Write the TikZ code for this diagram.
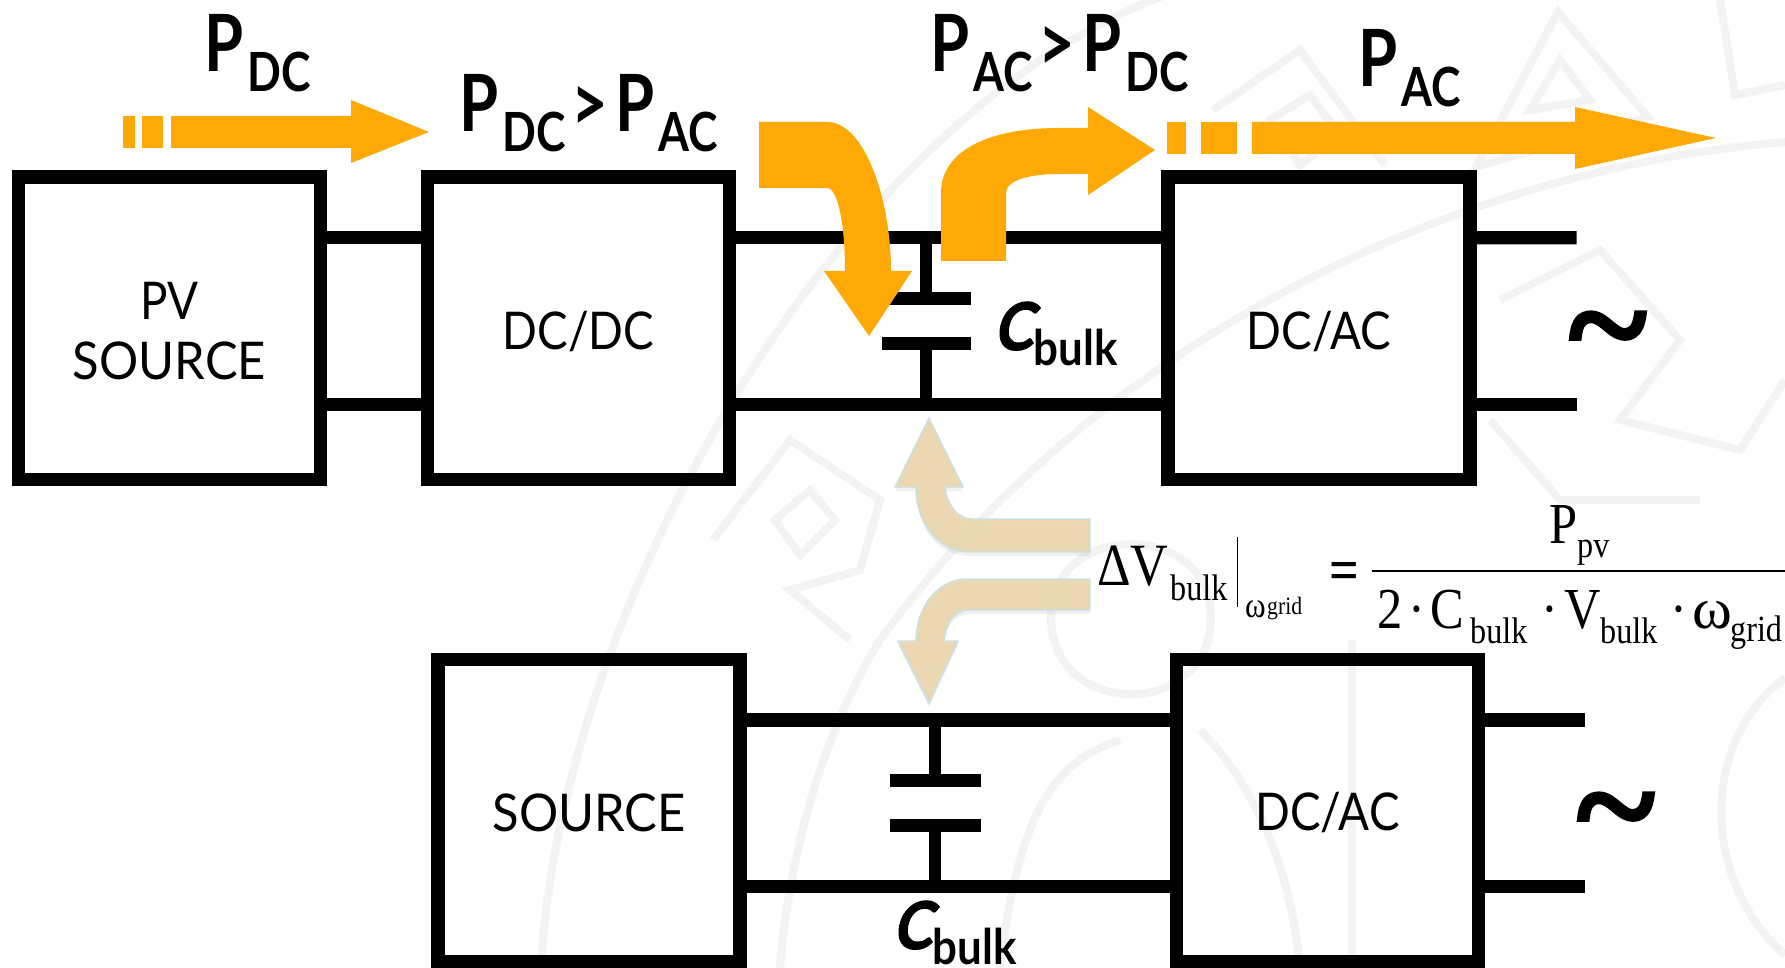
\documentclass[tikz,border=0pt]{standalone}
\usepackage{fontspec}
\usepackage{graphicx}
\usetikzlibrary{shadows}
\newfontfamily\boxfont[FakeStretch=0.88]{Lato}
\newfontfamily\flowfont[FakeStretch=0.8]{Lato}
\newfontfamily\slfont[FakeStretch=0.9,FakeSlant=0.22,FakeBold=1.5]{Lato}
\newfontfamily\eqfont[FakeStretch=0.87]{Liberation Serif}
\newfontfamily\tldfont[FakeBold=3.5]{Liberation Serif}
\definecolor{flowc}{HTML}{FFA906}
\definecolor{tanc}{HTML}{EAD6AE}
\definecolor{tanl}{HTML}{C6E2E6}
\definecolor{wmc}{HTML}{F3F3F3}
\newcommand{\fsz}[1]{\fontsize{#1}{#1}\selectfont}
\newcommand{\psub}[1]{P\kern4pt\raisebox{-20pt}{\fsz{54}\scalebox{1.03}[1]{#1}}}
\newcommand{\gtr}{\kern6pt>\kern7pt}
\newcommand{\cbulk}{{\slfont\fsz{66}C}\kern1pt\raisebox{-15pt}{\fsz{49}\scalebox{1.12}[1]{bulk}}}
\newcommand{\wide}[1]{\scalebox{1.07}[1]{#1}}
\tikzset{
  blk/.style={draw,line width=13.8pt,minimum width=302pt,minimum height=302pt,inner sep=0pt},
  blt/.style={inner sep=0pt,align=center,font=\boxfont\fontsize{52}{60}\selectfont},
  wire/.style={line width=13.3pt},
  stem/.style={line width=12.5pt},
  plate/.style={fill=black,minimum width=#1,minimum height=13.3pt,inner sep=0pt},
  pw/.style={anchor=base west,inner sep=0pt,font=\flowfont\bfseries\fsz{79}},
  cb/.style={anchor=base west,inner sep=0pt,font=\flowfont\bfseries},
  eq/.style={anchor=base west,inner sep=0pt,font=\eqfont\fsz{#1}},
  eqline/.style={line width=#1},
  tld/.style={inner sep=0pt,font=\tldfont\fsz{150}},
  flow/.style={fill=flowc},
  ret/.style={fill=tanc,draw=tanl,line width=1.4pt,fill opacity=0.92,drop shadow={shadow xshift=0pt,shadow yshift=-4pt,opacity=0.12}},
  wm/.style={draw=wmc,line width=8pt},
}
\begin{document}
\begin{tikzpicture}[x=1pt,y=-1pt]
\useasboundingbox (0,0) rectangle (1785,968);
\clip (0,0) rectangle (1785,968);
% seal behind everything
\draw[wm] (541,968) .. controls (560,600) and (850,100) .. (1180,-10);
\draw[wm] (1785,142) .. controls (1450,170) and (1100,340) .. (880,640) .. controls (830,720) and (790,840) .. (780,968);
\draw[wm] (1785,678) .. controls (1700,740) and (1700,880) .. (1785,955);
\draw[wm] (1476,167)--(1558,12)--(1648,117)--cycle; \draw[wm] (1530,110)--(1560,60)--(1590,100)--cycle;
\draw[wm] (1720,0)--(1735,95)--(1785,85);
\draw[wm] (1213,110)--(1300,50)--(1385,165); \draw[wm] (1270,120)--(1310,95)--(1340,135)--(1300,165)--cycle;
\draw[wm] (713,540)--(790,440)--(880,500)--(860,570)--(790,590)--(850,640);
\draw[wm] (775,520)--(810,490)--(835,520)--(800,555)--cycle;
\draw[wm] (1051,617) .. controls (1051,520) and (1211,520) .. (1211,617) .. controls (1211,720) and (1051,720) .. (1051,617);
\draw[wm] (1352,640)--(1352,968); \draw[wm] (1000,968) .. controls (1020,800) and (1060,760) .. (1120,740);
\draw[wm] (1300,968) .. controls (1290,860) and (1250,780) .. (1200,730);
\draw[wm] (1500,300)--(1600,250)--(1680,340)--(1620,420)--(1740,450)--(1785,380);
\draw[wm] (1490,420)--(1560,500)--(1700,500);
% top row
\node[blk] (pv) at (169.5,328.4){};
\node[blk] (dd) at (578.5,328.4){};
\node[blk] (da) at (1319,328.4){};
\node[blt] (pvt) at ([yshift=-3pt]pv.center){PV\\\wide{SOURCE}};
\node[blt] (ddt) at ([yshift=-3pt]dd.center){DC/DC};
\node[blt] (dat) at ([yshift=-3pt]da.center){DC/AC};
\draw[wire] ([yshift=90.6pt]pv.east)--([yshift=90.6pt]dd.west);
\draw[wire] ([yshift=-76.1pt]pv.east)--([yshift=-76.1pt]dd.west);
\draw[wire] ([yshift=90.6pt]dd.east)--([yshift=90.6pt]da.west);
\draw[wire] ([yshift=-76.1pt]dd.east)--([yshift=-76.1pt]da.west);
\coordinate (o1) at (1576.6,237.7); \coordinate (o2) at (1576.6,404.5);
\draw[wire] ([yshift=90.6pt]da.east)--(o1);
\draw[wire] ([yshift=-76.1pt]da.east)--(o2);
\coordinate (j1) at (926,237.7); \coordinate (j2) at (926,404.5);
\node[plate=89pt] (c1) at (926,298.5){}; \node[plate=89pt] (c2) at (926,343.5){};
\draw[stem] (j1)--(c1); \draw[stem] (c2)--(j2);
\node[tld] (t1) at (1608,344){\char`\~};
% bottom row
\node[blk] (sr) at (589,810.5){};
\node[blk] (db) at (1327.5,810.5){};
\node[blt] (srt) at ([yshift=-2pt]sr.center){\wide{SOURCE}};
\node[blt] (dbt) at ([yshift=-2pt]db.center){DC/AC};
\draw[wire] ([yshift=90.5pt]sr.east)--([yshift=90.5pt]db.west);
\draw[wire] ([yshift=-76pt]sr.east)--([yshift=-76pt]db.west);
\coordinate (o3) at (1585,720); \coordinate (o4) at (1585,886.5);
\draw[wire] ([yshift=90.5pt]db.east)--(o3);
\draw[wire] ([yshift=-76pt]db.east)--(o4);
\coordinate (j3) at (935,720); \coordinate (j4) at (935,886.5);
\node[plate=91pt] (c3) at (935,780.5){}; \node[plate=91pt] (c4) at (935,825.5){};
\draw[stem] (j3)--(c3); \draw[stem] (c4)--(j4);
\node[tld] (t2) at (1616,825){\char`\~};
% flows
\fill[flow] (123,116) rectangle (135,148); \fill[flow] (142,116) rectangle (163,148);
\fill[flow] (171,116)--(351,116)--(351,100)--(429,132)--(351,163)--(351,148)--(171,148)--cycle;
\fill[flow] (759,122)--(827,122) .. controls (865,122) and (891,200) .. (891,271)--(912,271)--(869,336)
  --(824,271)--(845,271) .. controls (845,225) and (838,188) .. (827,188)--(759,188)--cycle;
\fill[flow] (941,261)--(941,193) .. controls (941,150) and (990,128) .. (1059,128)--(1088,128)--(1088,107)
  --(1155,150)--(1088,195)--(1088,174)--(1059,174) .. controls (1030,174) and (1006,180) .. (1006,193)--(1006,261)--cycle;
\fill[flow] (1167,122) rectangle (1186,154); \fill[flow] (1201,122) rectangle (1237,154);
\fill[flow] (1252,122)--(1575,122)--(1575,107)--(1716,138)--(1575,169)--(1575,154)--(1252,154)--cycle;
\path[ret] (929,418)--(963,487)--(945,487) .. controls (947,505) and (958,519) .. (972,519)--(1090,519)--(1090,552)
  --(969,552) .. controls (940,552) and (916,525) .. (916,487)--(895,487)--cycle;
\path[ret] (1090,579)--(966,579) .. controls (940,579) and (916,605) .. (916,641)--(898,641)--(929,703)--(958,641)
  --(944,641) .. controls (946,622) and (955,610) .. (969,610)--(1090,610)--cycle;
% labels
\node[pw] (l1) at (204,72){\psub{DC}};
\node[pw] (l2) at (459,132){\psub{DC}\gtr\psub{AC}};
\node[pw] (l3) at (930,72){\psub{AC}\gtr\psub{DC}};
\node[pw] (l4) at (1358,87){\psub{AC}};
\node[cb] (l5) at (993,350){\cbulk};
\node[cb] (l6) at (892,949){\cbulk};
% equation
\node[eq=60] (e1) at (1097,585){ΔV};
\node[eq=37] (e2) at (1170,600){bulk};
\coordinate (b1) at (1237.6,537); \coordinate (b2) at (1237.6,607);
\draw[eqline=1.6pt] (b1)--(b2);
\node[eq=36] (e3) at (1245,617){ω};
\node[eq=25] (e4) at (1267,614){grid};
\node[eq=60,font=\eqfont\bfseries\fsz{60}] (e5) at (1329,590){=};
\node[eq=58] (e6) at (1549,543){P};
\node[eq=37] (e7) at (1577,557){pv};
\coordinate (f1) at (1372,570.7); \coordinate (f2) at (1785,570.7);
\draw[eqline=2.4pt] (f1)--(f2);
\node[eq=58] (e8) at (1377,628){2};
\node[eq=58] (e9) at (1408,628){·};
\node[eq=58] (e10) at (1430,628){C};
\node[eq=37] (e11) at (1470,643){bulk};
\node[eq=58] (e12) at (1541,628){·};
\node[eq=58] (e13) at (1564,628){V};
\node[eq=37] (e14) at (1600,643){bulk};
\node[eq=58] (e15) at (1670,628){·};
\node[eq=58] (e16) at (1692,628){\scalebox{1.2}[1]{ω}};
\node[eq=37] (e17) at (1730,641){grid};
\end{tikzpicture}
\end{document}
